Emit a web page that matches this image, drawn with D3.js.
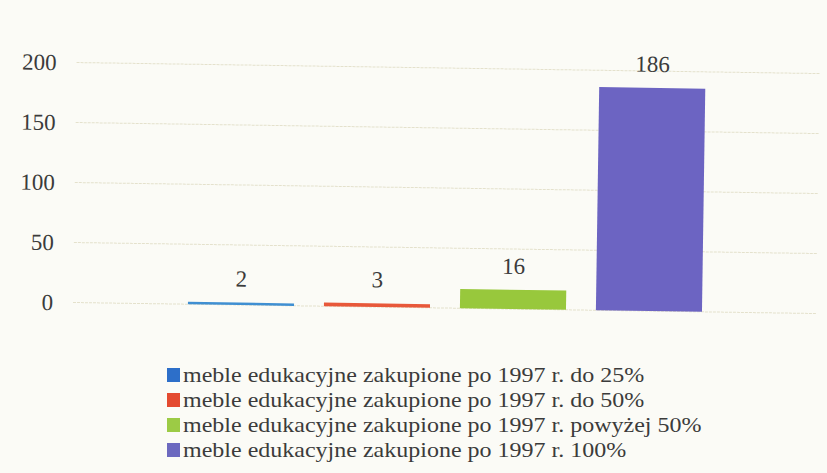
<!DOCTYPE html>
<html><head><meta charset="utf-8">
<script src="https://cdn.jsdelivr.net/npm/d3@7"></script>
<style>
html,body{margin:0;padding:0;background:#fbfbf6;}
svg{display:block;}
</style></head>
<body>
<svg id="chart" width="827" height="473"></svg>
<script>
const categories = ["do 25%", "do 50%", "powyżej 50%", "100%"];
const values = [2, 3, 16, 186];
const colors = ["#3f8fd2", "#e8583a", "#98c83c", "#6c64c2"];
const legendColors = ["#2d6fc9", "#e44a30", "#9ccb45", "#6c69bf"];
const legendLabels = [
  "meble edukacyjne zakupione po 1997 r. do 25%",
  "meble edukacyjne zakupione po 1997 r. do 50%",
  "meble edukacyjne zakupione po 1997 r. powyżej 50%",
  "meble edukacyjne zakupione po 1997 r. 100%"
];
const yTicks = [0, 50, 100, 150, 200];
const FONT = "'Liberation Serif', 'DejaVu Serif', serif";

const svg = d3.select("#chart");
const y = d3.scaleLinear().domain([0, 200]).range([302.5, 62.5]);
const x = d3.scaleBand().domain(categories).range([173, 717]).paddingInner(0.22).paddingOuter(0.11);

const plot = svg.append("g").attr("transform", "rotate(0.85,73,302)");

plot.append("g").selectAll("line").data(yTicks).join("line")
  .attr("x1", 73).attr("x2", 817)
  .attr("y1", d => y(d)).attr("y2", d => y(d))
  .attr("stroke", "#e4e1cc").attr("stroke-width", 1).attr("stroke-dasharray", "3,1");

const yAxis = d3.axisLeft(y).tickValues(yTicks).tickSize(0).tickPadding(0);
const ag = plot.append("g").attr("transform", "translate(53,0)").call(yAxis)
  .attr("font-family", FONT).attr("font-size", 23);
ag.select(".domain").remove();
ag.selectAll("text").attr("fill", "#3b3b3b");

plot.append("g").selectAll("rect").data(values).join("rect")
  .attr("x", (d, i) => x(categories[i]))
  .attr("width", x.bandwidth())
  .attr("y", d => y(d))
  .attr("height", d => Math.max(2.5, y(0) - y(d)))
  .attr("fill", (d, i) => colors[i]);

plot.append("g").attr("font-family", FONT).attr("font-size", 23).attr("fill", "#3b3b3b")
  .selectAll("text").data(values).join("text")
  .attr("x", (d, i) => x(categories[i]) + x.bandwidth() / 2)
  .attr("y", d => y(d) - 16)
  .attr("text-anchor", "middle")
  .text(d => d);

const lg = svg.append("g").attr("transform", "translate(167,375)")
  .attr("font-family", FONT).attr("font-size", 21.5).attr("fill", "#3b3b3b");
const rows = lg.selectAll("g").data(legendLabels).join("g")
  .attr("transform", (d, i) => `translate(0,${i * 25})`);
rows.append("rect").attr("x", 0).attr("y", -7).attr("width", 13).attr("height", 14)
  .attr("fill", (d, i) => legendColors[i]);
rows.append("text").attr("x", 16).attr("y", 0).attr("dy", "0.33em")
  .text(d => d)
  .each(function () {
    const w = this.getComputedTextLength();
    d3.select(this).attr("textLength", w * 24 / 21.5).attr("lengthAdjust", "spacingAndGlyphs");
  });
</script>
</body></html>
